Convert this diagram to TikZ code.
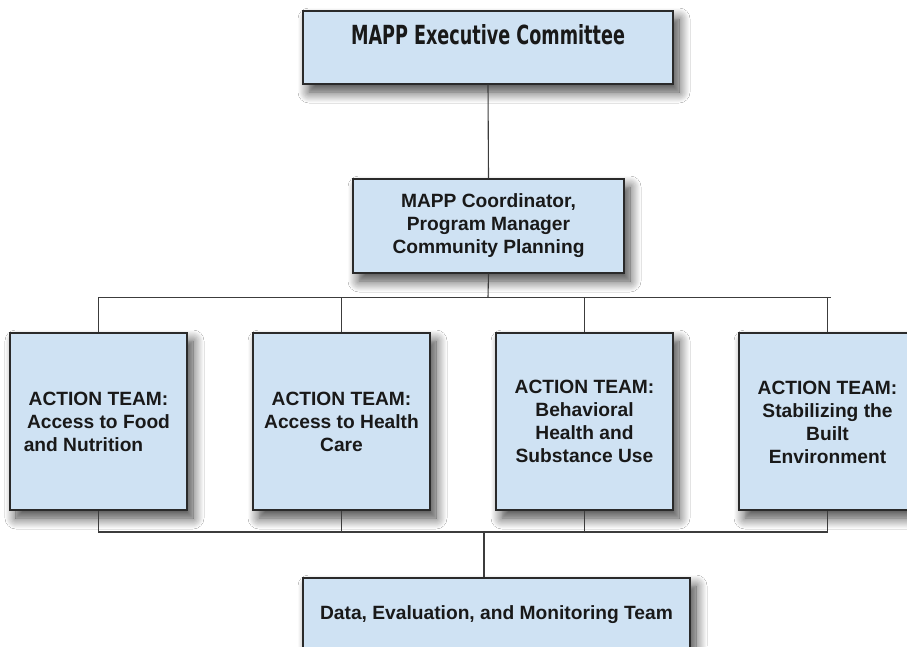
\documentclass[tikz,border=0pt]{standalone}
\usepackage{fontspec}
\setmainfont{Liberation Sans}
\newfontfamily\titlefont{DejaVu Sans Condensed}
\usepackage{graphicx}
\usetikzlibrary{shadows.blur}
\definecolor{boxfill}{HTML}{CFE2F3}
\definecolor{boxline}{HTML}{2A2A2A}
\definecolor{connline}{HTML}{3C3C3C}
\begin{document}
\begin{tikzpicture}[x=1pt,y=-1pt,
  orgbox/.style={draw=boxline,line width=1.1pt,fill=boxfill,rectangle,inner sep=0pt,
     blur shadow={shadow xshift=6pt,shadow yshift=-8pt,shadow blur radius=11pt,shadow blur steps=12,shadow opacity=75}},
  orgtext/.style={font=\fontsize{19.2}{23}\selectfont\bfseries,text=black!90,align=center,inner sep=0pt},
  conn/.style={draw=connline,line width=1.1pt}]
\useasboundingbox (0,0) rectangle (907,646);
\clip (0,0) rectangle (907,646);
\fill[white] (0,0) rectangle (907,646);
% boxes
\node[orgbox,minimum width=370pt,minimum height=73pt] (top) at (488,47.5) {};
\node[orgtext] (toptext) at (488,35) {\resizebox{274pt}{20pt}{\titlefont\bfseries MAPP Executive Committee}};
\node[orgbox,orgtext,minimum width=271pt,minimum height=94pt] (coord) at (488.5,226)
  {MAPP Coordinator,\\Program Manager\\Community Planning};
\node[orgbox,orgtext,minimum width=177pt,minimum height=177pt] (a1) at (98.5,421.5)
  {ACTION TEAM:\\Access to Food\\and Nutrition\kern30pt};
\node[orgbox,orgtext,minimum width=177pt,minimum height=177pt] (a2) at (341.5,421.5)
  {ACTION TEAM:\\Access to Health\\Care};
\node[orgbox,orgtext,minimum width=177pt,minimum height=177pt] (a3) at (584.5,421.5)
  {ACTION TEAM:\\Behavioral\\Health and\\Substance Use};
\node[orgbox,minimum width=177pt,minimum height=177pt] (a4) at (827.5,421.5) {};
\node[orgtext] (a4text) at (827.5,422.5)
  {ACTION TEAM:\\Stabilizing the\\Built\\Environment};
\node[orgbox,minimum width=387pt,minimum height=110pt] (bot) at (496.5,633) {};
\node[orgtext] (bottext) at (496.5,615) {Data, Evaluation, and Monitoring Team};
% connectors
\coordinate (busT) at (488,297.5);
\coordinate (busTend) at (831,297.5);
\coordinate (busB) at (484,532);
\draw[conn] (top.south) -- (coord.north);
\draw[conn] (coord.south) -- (busT);
\draw[conn] (a1.north) |- (busTend);
\draw[conn] (a2.north) -- (a2.north |- busT);
\draw[conn] (a3.north) -- (a3.north |- busT);
\draw[conn] (a4.north) -- (a4.north |- busT);
\draw[conn] (a1.south) |- (a4.south |- busB) -- (a4.south);
\draw[conn] (a2.south) -- (a2.south |- busB);
\draw[conn] (a3.south) -- (a3.south |- busB);
\draw[conn] (busB) -- (bot.north -| busB);
\end{tikzpicture}
\end{document}
